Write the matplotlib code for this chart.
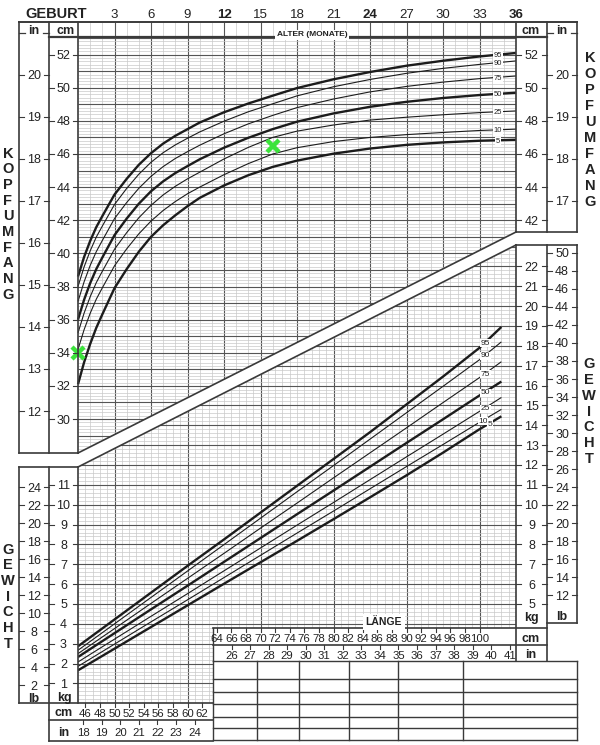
import numpy as np
import matplotlib
matplotlib.use("Agg")
import matplotlib.pyplot as plt
from matplotlib.patches import Polygon

plt.rcParams['font.family'] = ['Liberation Sans', 'DejaVu Sans']

# ---------------- data ----------------
hc_age = [0, 0.5, 1, 1.5, 2, 3, 4, 5, 6, 7, 8, 9, 10, 12, 14, 16, 18, 21, 24, 27, 30, 33, 36]
hc_p95 = [38.6, 39.78, 40.75, 41.58, 42.25, 43.55, 44.5, 45.35, 46.05, 46.63, 47.1, 47.5, 47.9, 48.52, 49.05, 49.52, 49.98, 50.51, 50.95, 51.33, 51.63, 51.89, 52.1]
hc_p90 = [38.0, 39.18, 40.15, 40.98, 41.65, 42.95, 43.92, 44.78, 45.5, 46.08, 46.55, 46.95, 47.33, 47.98, 48.55, 49.03, 49.51, 50.06, 50.5, 50.87, 51.17, 51.41, 51.62]
hc_p75 = [37.1, 38.28, 39.27, 40.1, 40.78, 42.1, 43.07, 43.93, 44.65, 45.24, 45.73, 46.14, 46.53, 47.22, 47.82, 48.33, 48.8, 49.32, 49.75, 50.08, 50.34, 50.55, 50.71]
hc_p50 = [36.0, 37.2, 38.2, 39.05, 39.75, 41.1, 42.1, 43.0, 43.75, 44.35, 44.85, 45.27, 45.68, 46.38, 46.98, 47.5, 47.95, 48.45, 48.85, 49.15, 49.38, 49.56, 49.7]
hc_p25 = [35.2, 36.39, 37.38, 38.23, 38.92, 40.25, 41.25, 42.15, 42.9, 43.53, 44.05, 44.5, 44.9, 45.7, 46.4, 47.0, 47.38, 47.75, 48.05, 48.22, 48.37, 48.5, 48.6]
hc_p10 = [34.2, 35.39, 36.38, 37.23, 37.92, 39.25, 40.27, 41.18, 41.95, 42.59, 43.13, 43.6, 44.0, 44.75, 45.42, 46.0, 46.38, 46.75, 47.0, 47.17, 47.3, 47.42, 47.5]
hc_p5 = [32.1, 33.42, 34.53, 35.5, 36.32, 37.9, 39.05, 40.1, 41.0, 41.7, 42.3, 42.85, 43.35, 44.1, 44.72, 45.22, 45.6, 46.02, 46.33, 46.55, 46.7, 46.8, 46.86]
hc_marker_age = [0, 16]
hc_marker_cm = [34.0, 46.5]

wl_len = [45, 50, 55, 60, 65, 70, 75, 80, 85, 90, 95, 100, 103]
wl_p95 = [2.87, 4.22, 5.57, 6.92, 8.25, 9.6, 10.95, 12.3, 13.65, 15.05, 16.45, 17.9, 18.95]
wl_p90 = [2.67, 4.0, 5.33, 6.66, 7.99, 9.32, 10.65, 11.97, 13.3, 14.63, 15.96, 17.3, 18.2]
wl_p75 = [2.5, 3.76, 5.03, 6.29, 7.55, 8.82, 10.08, 11.35, 12.61, 13.87, 15.14, 16.4, 17.2]
wl_p50 = [2.33, 3.53, 4.73, 5.92, 7.12, 8.32, 9.52, 10.71, 11.91, 13.11, 14.3, 15.5, 16.2]
wl_p25 = [2.08, 3.23, 4.38, 5.52, 6.67, 7.82, 8.97, 10.11, 11.26, 12.41, 13.55, 14.7, 15.4]
wl_p10 = [1.86, 2.98, 4.1, 5.21, 6.33, 7.45, 8.57, 9.68, 10.8, 11.92, 13.03, 14.15, 14.8]
wl_p5 = [1.66, 2.75, 3.84, 4.93, 6.02, 7.1, 8.18, 9.27, 10.37, 11.48, 12.62, 13.8, 14.45]

pct_labels = ['95', '90', '75', '50', '25', '10', '5']
pct_thick = ['95', '50', '5']

month_ticks = [3, 6, 9, 12, 15, 18, 21, 24, 27, 30, 33, 36]
month_bold = [12, 24, 36]
hc_cm_left = [30, 32, 34, 36, 38, 40, 42, 44, 46, 48, 50, 52]
hc_in_left = [12, 13, 14, 15, 16, 17, 18, 19, 20]
hc_cm_right = [42, 44, 46, 48, 50, 52]
hc_in_right = [17, 18, 19, 20]
wt_kg_left = [1, 2, 3, 4, 5, 6, 7, 8, 9, 10, 11]
wt_lb_left = [2, 4, 6, 8, 10, 12, 14, 16, 18, 20, 22, 24]
wt_kg_right = [5, 6, 7, 8, 9, 10, 11, 12, 13, 14, 15, 16, 17, 18, 19, 20, 21, 22]
wt_lb_right = [12, 14, 16, 18, 20, 22, 24, 26, 28, 30, 32, 34, 36, 38, 40, 42, 44, 46, 48, 50]
len_cm_low = [46, 48, 50, 52, 54, 56, 58, 60, 62]
len_in_low = [18, 19, 20, 21, 22, 23, 24]
len_cm_tab = [64, 66, 68, 70, 72, 74, 76, 78, 80, 82, 84, 86, 88, 90, 92, 94, 96, 98, 100]
len_in_tab = [26, 27, 28, 29, 30, 31, 32, 33, 34, 35, 36, 37, 38, 39, 40, 41]

# ---------------- figure ----------------
W, H = 600, 745
fig = plt.figure(figsize=(W / 100, H / 100), dpi=100)
fig.patch.set_facecolor('white')


def rect(x0, y0, x1, y1):
    return [x0 / W, 1 - y1 / H, (x1 - x0) / W, (y1 - y0) / H]


GX0, GX1, GY0, GY1 = 78, 516, 22, 703
axh = fig.add_axes(rect(GX0, GY0, GX1, GY1), zorder=1)
axw = fig.add_axes(rect(GX0, GY0, GX1, GY1), zorder=2)
ov = fig.add_axes([0, 0, 1, 1], zorder=3)
for a in (axh, axw, ov):
    a.set_axis_off()
    a.patch.set_visible(False)
ov.set_xlim(0, W)
ov.set_ylim(H, 0)
axh.set_xlim(0, 36)
axw.set_xlim(45, 105)


def hc_at(py):
    return 30 + (419 - py) / 16.5625


def kg_at(py):
    return (703.3 - py) / 19.86


axh.set_ylim(hc_at(GY1), hc_at(GY0))
axw.set_ylim(kg_at(GY1), kg_at(GY0))

INV = ov.transData.inverted()


def to_px(ax, x, y):
    return INV.transform(ax.transData.transform((x, y)))


LIGHT = '#c9c9c9'
DARK = '#555555'
FRAME = '#3a3a3a'
INK = '#1c1c1c'
TXT = '#222222'

head_clip_v = Polygon([(78, 22), (516, 22), (516, 232), (78, 453)], closed=True, transform=ov.transData)
head_clip_h = Polygon([(78, 37), (516, 37), (516, 232), (78, 453)], closed=True, transform=ov.transData)
wt_clip = Polygon([(78, 467), (516, 245), (516, 628), (213, 628), (213, 703), (78, 703)], closed=True,
                  transform=ov.transData)

# ---- head grid
ylo, yhi = axh.get_ylim()
m = np.arange(1, 36, 1)
c = axh.vlines(m[m % 3 != 0], ylo, yhi, colors=LIGHT, lw=0.5)
c.set_clip_path(head_clip_v)
c = axh.vlines(m[m % 3 == 0], ylo, yhi, colors=DARK, lw=0.8)
c.set_clip_path(head_clip_v)
hv = np.round(np.arange(13, 54.01, 0.2), 1)
isint = np.isclose(hv, np.round(hv))
c = axh.hlines(hv[~isint], 0, 36, colors=LIGHT, lw=0.5)
c.set_clip_path(head_clip_h)
c = axh.hlines(hv[isint], 0, 36, colors=DARK, lw=0.8)
c.set_clip_path(head_clip_h)

# ---- weight grid
xlo, xhi = axw.get_xlim()
wylo, wyhi = axw.get_ylim()
L = np.arange(46, 105, 1)
c = axw.vlines(L[L % 10 != 0], wylo, wyhi, colors=LIGHT, lw=0.5)
c.set_clip_path(wt_clip)
c = axw.vlines(L[L % 10 == 0], wylo, wyhi, colors=DARK, lw=0.8)
c.set_clip_path(wt_clip)
kv = np.round(np.arange(0, 34.4, 0.2), 1)
isint = np.isclose(kv, np.round(kv))
c = axw.hlines(kv[~isint], xlo, xhi, colors=LIGHT, lw=0.5)
c.set_clip_path(wt_clip)
c = axw.hlines(kv[isint], xlo, xhi, colors=DARK, lw=0.8)
c.set_clip_path(wt_clip)

# ---- percentile curves
hc_series = [hc_p95, hc_p90, hc_p75, hc_p50, hc_p25, hc_p10, hc_p5]
for lab, vals in zip(pct_labels, hc_series):
    axh.plot(hc_age, vals, color=INK, lw=1.7 if lab in pct_thick else 0.8, zorder=3,
             solid_capstyle='butt', solid_joinstyle='round', clip_on=False)
    xl = 34.5
    yl = np.interp(xl, hc_age, vals)
    axh.text(xl, yl, lab, fontsize=5.5, ha='center', va='center_baseline', color=TXT, zorder=4,
             bbox=dict(boxstyle='square,pad=0.12', fc='white', ec='none'))

wl_series = [wl_p95, wl_p90, wl_p75, wl_p50, wl_p25, wl_p10, wl_p5]
wl_label_x = [100.8, 100.8, 100.8, 100.8, 100.8, 100.5, 101.4]
for lab, vals, xl in zip(pct_labels, wl_series, wl_label_x):
    axw.plot(wl_len, vals, color=INK, lw=1.7 if lab in pct_thick else 0.8, zorder=3,
             solid_capstyle='butt', solid_joinstyle='round')
    yl = np.interp(xl, wl_len, vals)
    axw.text(xl, yl, lab, fontsize=6, ha='center', va='center_baseline', color=TXT, zorder=4,
             bbox=dict(boxstyle='square,pad=0.06', fc='white', ec='none'))

axh.plot(hc_marker_age, hc_marker_cm, ls='none', marker='x', ms=9, mew=3.2, color='#3be33b',
         zorder=6, clip_on=False)


# ---------------- frames ----------------
def seg(x0, y0, x1, y1, lw=1.2, col=FRAME):
    ov.plot([x0, x1], [y0, y1], color=col, lw=lw, solid_capstyle='projecting')


seg(19, 22, 577, 22, 1.4)
seg(49, 37, 547, 37, 1.6)
# head left box
seg(19, 22, 19, 453)
seg(49, 22, 49, 453)
seg(78, 22, 78, 453)
seg(19, 453, 78, 453)
# diagonals
seg(78, 453, 516, 232)
seg(78, 467, 516, 245)
# head right box
seg(516, 22, 516, 232)
seg(547, 22, 547, 232)
seg(577, 22, 577, 232)
seg(516, 232, 577, 232)
# weight left box
seg(19, 467, 78, 467)
seg(19, 467, 19, 703)
seg(49, 467, 49, 741)
seg(78, 467, 78, 703)
seg(19, 703, 213, 703)
seg(49, 720, 213, 720)
seg(49, 741, 213, 741)
# weight right box
seg(516, 245, 577, 245)
seg(516, 245, 516, 661)
seg(547, 245, 547, 661)
seg(577, 245, 577, 623)
seg(547, 623, 577, 623)
seg(213, 628, 547, 628)
seg(213, 645, 547, 645)
# table
tab_x = [213, 257, 299, 349, 398, 463, 577]
tab_y = [661, 679, 692, 704, 717, 728, 740]
for x in tab_x:
    seg(x, 661, x, 740, 1.0)
seg(213, 628, 213, 661, 1.0)
for y in tab_y:
    seg(213, y, 577, y, 1.0)

# "_in_" underscores
for x0, x1 in [(19, 25), (43, 49), (547, 553), (571, 577)]:
    seg(x0, 33, x1, 33, 0.9)


# ---------------- scales ----------------
def yscale(ax, values, conv, xl, xr, fs=9):
    for v in values:
        py = to_px(ax, 0, conv(v))[1]
        ov.text((xl + xr) / 2, py, str(v), ha='center', va='center_baseline', fontsize=fs, color=TXT)
        ov.plot([xl, xl + 5], [py, py], color=FRAME, lw=0.8)
        ov.plot([xr - 5, xr], [py, py], color=FRAME, lw=0.8)


yscale(axh, hc_cm_left, lambda v: v, 49, 78)
yscale(axh, hc_in_left, lambda v: v * 2.54, 19, 49)
yscale(axh, hc_cm_right, lambda v: v, 516, 547)
yscale(axh, hc_in_right, lambda v: v * 2.54, 547, 577)
yscale(axw, wt_kg_left, lambda v: v, 49, 78)
yscale(axw, wt_lb_left, lambda v: v * 0.45359, 19, 49)
yscale(axw, wt_kg_right, lambda v: v, 516, 547)
yscale(axw, wt_lb_right, lambda v: v * 0.45359, 547, 577)


def xscale(values, conv, ytop, ylab, fs=8.2, tick=3.5):
    for v in values:
        px = to_px(axw, conv(v), 0)[0]
        ov.text(px, ylab, str(v), ha='center', va='center_baseline', fontsize=fs, color=TXT)
        ov.plot([px, px], [ytop, ytop + tick], color=FRAME, lw=0.8)


xscale(len_cm_low, lambda v: v, 703, 713)
xscale(len_in_low, lambda v: v * 2.54, 720, 732)
xscale(len_cm_tab, lambda v: v, 628, 638.5)
xscale(len_in_tab, lambda v: v * 2.54, 645, 655)

# month labels
for mth in month_ticks:
    px = to_px(axh, mth, 40)[0]
    ov.text(px, 13, str(mth), ha='center', va='center_baseline', fontsize=9.5, color=TXT,
            fontweight='bold' if mth in month_bold else 'normal')
ov.text(56, 13, 'GEBURT', ha='center', va='center_baseline', fontsize=10.5, fontweight='bold', color=TXT)
ov.text(312, 34, 'ALTER (MONATE)', ha='center', va='center_baseline', fontsize=6, fontweight='bold',
        color=TXT, bbox=dict(boxstyle='square,pad=0.15', fc='white', ec='none'))
ov.text(384, 621, 'LÄNGE', ha='center', va='center_baseline', fontsize=7.5, fontweight='bold',
        color=TXT, bbox=dict(boxstyle='square,pad=0.3', fc='white', ec='none'))

# unit labels
units = [('in', 34, 29), ('cm', 66, 29), ('cm', 531, 29), ('in', 562, 29),
         ('lb', 34, 697), ('kg', 64, 697), ('kg', 531, 616), ('lb', 562, 616),
         ('cm', 64, 712), ('in', 64, 731), ('cm', 531, 637), ('in', 531, 654)]
for t, x, y in units:
    ov.text(x, y, t, ha='center', va='center_baseline', fontsize=9, fontweight='bold', color=TXT)

# vertical words
for word, x, y0, step in [('KOPFUMFANG', 8, 152, 15.7), ('KOPFUMFANG', 590, 57, 16.0),
                          ('GEWICHT', 8, 548, 15.7), ('GEWICHT', 589, 363, 15.7)]:
    for i, ch in enumerate(word):
        ov.text(x, y0 + i * step, ch, ha='center', va='center_baseline', fontsize=10.5,
                fontweight='bold', color=TXT)

fig.savefig('out.png', dpi=100, facecolor='white')
